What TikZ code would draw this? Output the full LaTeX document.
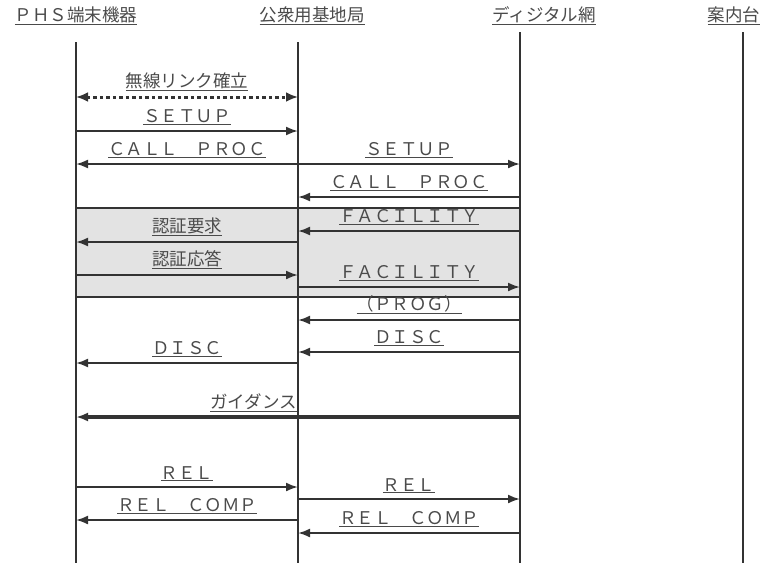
\documentclass[tikz,border=0pt]{standalone}
\usepackage{fontspec}
\setmainfont{Noto Sans CJK JP}
\usepackage{xcolor}
\usetikzlibrary{arrows.meta}

\definecolor{ink}{HTML}{333333}
\definecolor{txt}{HTML}{4A4A4A}
\definecolor{boxfill}{HTML}{E3E3E3}

\tikzset{
  lifeline/.style={draw=ink, line width=1.4pt},
  msg/.style={draw=ink, line width=2pt, -{Latex[length=12pt,width=9pt]}},
  lbl/.style={above=4pt, inner sep=1pt, text=txt},
  hdr/.style={text=txt, inner sep=1pt}
}

\begin{document}
\begin{tikzpicture}[x=1pt, y=-1pt, font=\fontsize{17.5}{20}\selectfont]
\useasboundingbox (0,0) rectangle (770,565);
% Lifelines
\coordinate (phs) at (76,42);  \coordinate (phsE) at (76,563);
\coordinate (bs)  at (298,42); \coordinate (bsE)  at (298,563);
\coordinate (dn)  at (520,32); \coordinate (dnE)  at (520,563);
\coordinate (gd)  at (743,32); \coordinate (gdE)  at (743,563);
% Headers
\node[hdr] (hphs) at (76,16)  {\underline{ＰＨＳ端末機器}};
\node[hdr] (hbs)  at (312,16) {\underline{公衆用基地局}};
\node[hdr] (hdn)  at (544,16) {\underline{ディジタル網}};
\node[hdr] (hgd)  at (734,16) {\underline{案内台}};
% Authentication box
\draw[draw=ink, line width=1.4pt, fill=boxfill] (phs |- 0,208) rectangle (dn |- 0,297);
\draw[lifeline] (phs) -- (phsE);
\draw[lifeline] (bs) -- (bsE);
\draw[lifeline] (dn) -- (dnE);
\draw[lifeline] (gd) -- (gdE);
% Radio link
\draw[draw=ink, line width=3pt, dash pattern=on 3.5pt off 3pt,
  {Latex[length=12pt,width=10pt]}-{Latex[length=12pt,width=10pt]}]
  (phs |- 0,97) -- node[lbl] {\underline{無線リンク確立}} (bs |- 0,97);
% Call setup
\draw[msg] (phs |- 0,131) -- node[lbl] {\underline{ＳＥＴＵＰ}} (bs |- 0,131);
\draw[msg] (bs |- 0,164) -- node[lbl] {\underline{ＣＡＬＬ　ＰＲＯＣ}} (phs |- 0,164);
\draw[msg] (bs |- 0,164) -- node[lbl] {\underline{ＳＥＴＵＰ}} (dn |- 0,164);
\draw[msg] (dn |- 0,197) -- node[lbl] {\underline{ＣＡＬＬ　ＰＲＯＣ}} (bs |- 0,197);
% Authentication
\draw[msg] (dn |- 0,231) -- node[lbl] {\underline{ＦＡＣＩＬＩＴＹ}} (bs |- 0,231);
\draw[msg] (bs |- 0,242) -- node[lbl] {\underline{認証要求}} (phs |- 0,242);
\draw[msg] (phs |- 0,275) -- node[lbl] {\underline{認証応答}} (bs |- 0,275);
\draw[msg] (bs |- 0,287) -- node[lbl] {\underline{ＦＡＣＩＬＩＴＹ}} (dn |- 0,287);
% Disconnect
\draw[msg] (dn |- 0,320) -- node[lbl] {\underline{（ＰＲＯＧ）}} (bs |- 0,320);
\draw[msg] (dn |- 0,352) -- node[lbl] {\underline{ＤＩＳＣ}} (bs |- 0,352);
\draw[msg] (bs |- 0,363) -- node[lbl] {\underline{ＤＩＳＣ}} (phs |- 0,363);
% Guidance
\draw[msg, line width=3.5pt] (dn |- 0,417) -- (phs |- 0,417);
\node[hdr, anchor=south east] (gdtxt) at ([yshift=4pt]bs |- 0,417) {\underline{ガイダンス}};
% Release
\draw[msg] (phs |- 0,487) -- node[lbl] {\underline{ＲＥＬ}} (bs |- 0,487);
\draw[msg] (bs |- 0,499) -- node[lbl] {\underline{ＲＥＬ}} (dn |- 0,499);
\draw[msg] (bs |- 0,520) -- node[lbl] {\underline{ＲＥＬ　ＣＯＭＰ}} (phs |- 0,520);
\draw[msg] (dn |- 0,533) -- node[lbl] {\underline{ＲＥＬ　ＣＯＭＰ}} (bs |- 0,533);
\end{tikzpicture}
\end{document}
